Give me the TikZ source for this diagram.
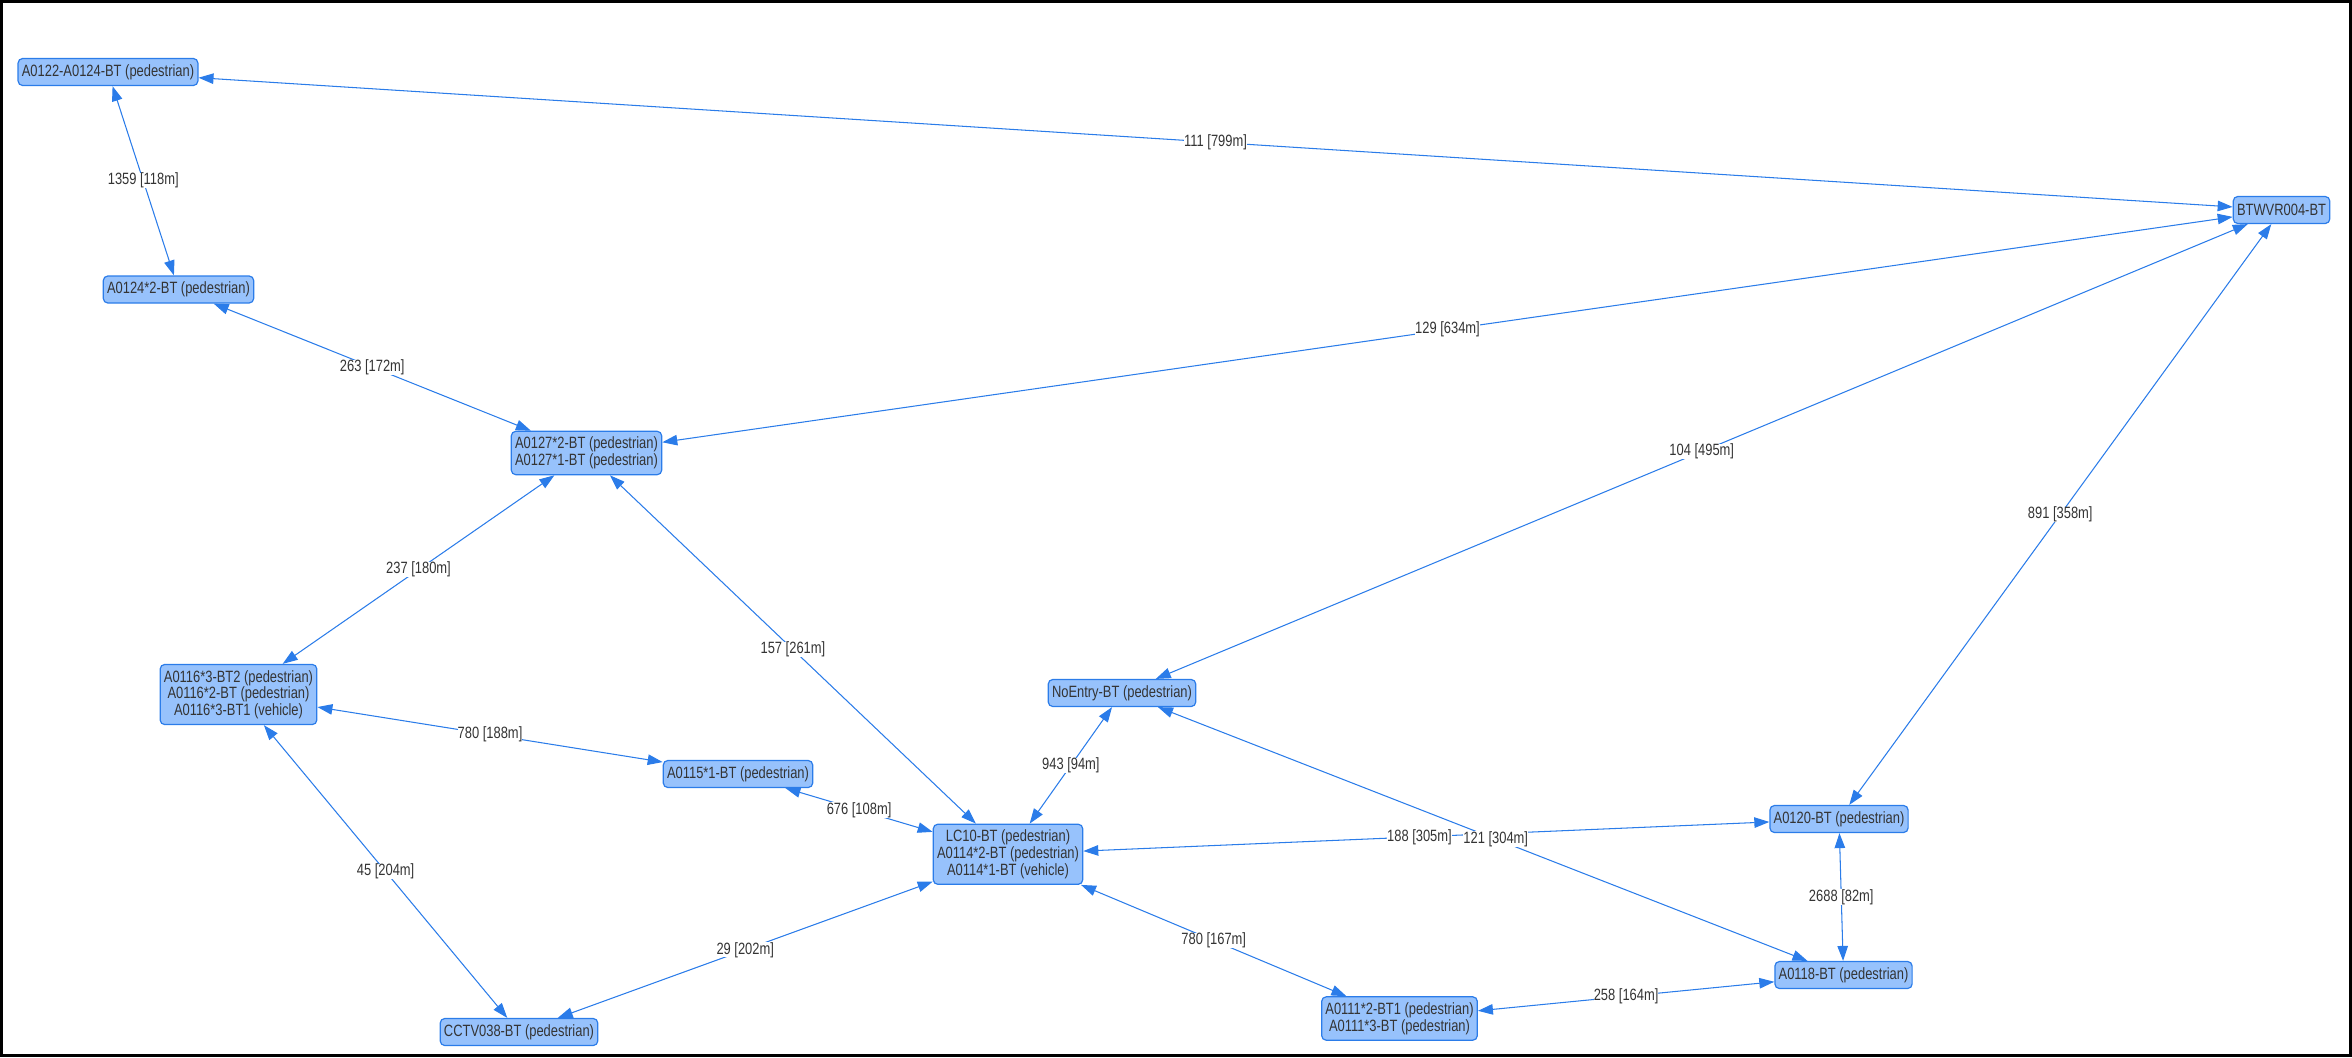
\documentclass[tikz,border=0pt]{standalone}
\usepackage{fontspec}
\setmainfont[FakeStretch=0.79]{Liberation Sans}
\usepackage{tikz}
\usetikzlibrary{arrows.meta}

\definecolor{visblue}{HTML}{2B7CE9}
\definecolor{visfill}{HTML}{97C2FC}
\definecolor{vistext}{HTML}{343434}

\tikzset{
  sensor/.style={draw=visblue, fill=visfill, line width=0.8pt, rounded corners=3pt,
    align=center, inner xsep=2.5pt, inner ysep=3.8pt, minimum height=18pt,
    text=vistext, font=\fontsize{10.9}{9.8}\selectfont},
  link/.style={visblue, line width=0.7pt, <->},
  dist/.style={fill=white, inner sep=0pt, text=vistext, font=\fontsize{10.9}{9.8}\selectfont},
  >={Triangle[length=10pt,width=7pt]}
}

\begin{document}
\begin{tikzpicture}[x=1pt,y=-1pt]

\useasboundingbox (0,0) rectangle (1568,704.67);
\draw [black, line width=2pt] (1,1) rectangle (1567,703.67);

% sensors
\node (a0122) at (72,48) [sensor] {A0122-A0124-BT (pedestrian)};
\node (a0124) at (119,193) [sensor] {A0124*2-BT (pedestrian)};
\node (a0127) at (391,302) [sensor] {A0127*2-BT (pedestrian)\\A0127*1-BT (pedestrian)};
\node (a0116) at (159,463) [sensor] {A0116*3-BT2 (pedestrian)\\A0116*2-BT (pedestrian)\\A0116*3-BT1 (vehicle)};
\node (a0115) at (492,516) [sensor] {A0115*1-BT (pedestrian)};
\node (cctv) at (346,688) [sensor] {CCTV038-BT (pedestrian)};
\node (lc10) at (672,569.5) [sensor] {LC10-BT (pedestrian)\\A0114*2-BT (pedestrian)\\A0114*1-BT (vehicle)};
\node (noentry) at (748,462) [sensor] {NoEntry-BT (pedestrian)};
\node (a0120) at (1226,546) [sensor] {A0120-BT (pedestrian)};
\node (a0118) at (1229,650) [sensor] {A0118-BT (pedestrian)};
\node (a0111) at (933,679) [sensor] {A0111*2-BT1 (pedestrian)\\A0111*3-BT (pedestrian)};
\node (btwvr) at (1521,140) [sensor] {BTWVR004-BT};

% links
\draw [link] (a0122) -- node [dist] {111 [799m]} (btwvr);
\draw [link] (a0122) -- node [dist] {1359 [118m]} (a0124);
\draw [link] (a0124) -- node [dist] {263 [172m]} (a0127);
\draw [link] (a0127) -- node [dist] {129 [634m]} (btwvr);
\draw [link] (a0127) -- node [dist] {237 [180m]} (a0116);
\draw [link] (a0127) -- node [dist] {157 [261m]} (lc10);
\draw [link] (noentry) -- node [dist] {104 [495m]} (btwvr);
\draw [link] (a0120) -- node [dist] {891 [358m]} (btwvr);
\draw [link] (a0116) -- node [dist] {780 [188m]} (a0115);
\draw [link] (a0116) -- node [dist] {45 [204m]} (cctv);
\draw [link] (a0115) -- node [dist] {676 [108m]} (lc10);
\draw [link] (lc10) -- node [dist] {943 [94m]} (noentry);
\draw [link] (lc10) -- node [dist, pos=0.49] {188 [305m]} (a0120);
\draw [link] (noentry) -- node [dist, pos=0.52] {121 [304m]} (a0118);
\draw [link] (a0120) -- node [dist] {2688 [82m]} (a0118);
\draw [link] (cctv) -- node [dist] {29 [202m]} (lc10);
\draw [link] (lc10) -- node [dist] {780 [167m]} (a0111);
\draw [link] (a0111) -- node [dist] {258 [164m]} (a0118);

\end{tikzpicture}
\end{document}
